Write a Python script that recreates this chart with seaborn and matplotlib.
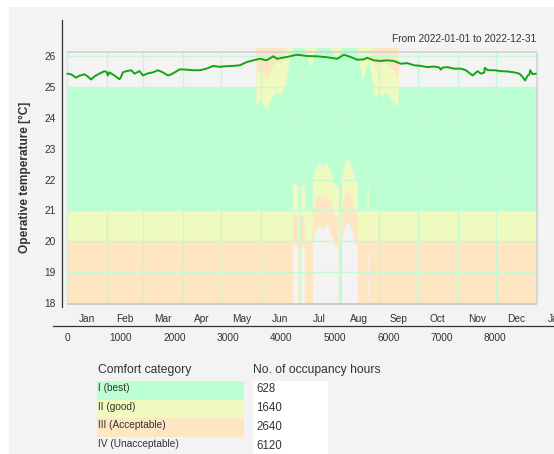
import numpy as np
import matplotlib
matplotlib.use("Agg")
import matplotlib.pyplot as plt
from matplotlib.patches import Rectangle
import seaborn as sns

sns.set_style("white")
plt.rcParams["font.family"] = ["Liberation Sans", "DejaVu Sans"]

# ---------------- data ----------------
month_names = ["Jan", "Feb", "Mar", "Apr", "May", "Jun", "Jul", "Aug",
               "Sep", "Oct", "Nov", "Dec", "Jan"]
month_starts = [0, 744, 1416, 2160, 2880, 3624, 4344, 5088, 5832, 6552,
                7296, 8016, 8760]
hour_ticks = [0, 1000, 2000, 3000, 4000, 5000, 6000, 7000, 8000]
temp_ticks = [18, 19, 20, 21, 22, 23, 24, 25, 26]

# operative temperature (hour of year, degC)
temp_hours = [0, 69, 163, 225, 319, 381, 444, 506, 600, 694, 740, 756, 788,
              881, 975, 1000, 1038, 1100, 1194, 1256, 1350, 1413, 1506, 1600,
              1694, 1788, 1881, 1944, 2006, 2100, 2225, 2350, 2475, 2600,
              2725, 2850, 2975, 3100, 3225, 3350, 3475, 3600, 3725, 3850,
              3919, 4106, 4294, 4481, 4669, 4856, 5044, 5169, 5294, 5419,
              5544, 5606, 5731, 5856, 5981, 6106, 6231, 6356, 6481, 6606,
              6731, 6856, 6950, 6981, 7020, 7106, 7231, 7356, 7450, 7575,
              7669, 7731, 7790, 7806, 7856, 7981, 8106, 8231, 8356, 8450,
              8513, 8556, 8606, 8640, 8650, 8700, 8760]
temp_values = [25.42, 25.40, 25.29, 25.35, 25.40, 25.33, 25.23, 25.33, 25.42,
               25.50, 25.47, 25.36, 25.46, 25.36, 25.24, 25.30, 25.46, 25.50,
               25.53, 25.42, 25.50, 25.36, 25.43, 25.46, 25.53, 25.46, 25.36,
               25.40, 25.46, 25.56, 25.55, 25.53, 25.53, 25.58, 25.67, 25.64,
               25.66, 25.67, 25.69, 25.79, 25.85, 25.90, 25.85, 25.98, 25.90,
               25.96, 26.03, 25.99, 25.98, 25.95, 25.90, 26.03, 25.96, 25.87,
               25.88, 25.93, 25.85, 25.83, 25.85, 25.83, 25.74, 25.76, 25.69,
               25.67, 25.63, 25.65, 25.62, 25.55, 25.62, 25.63, 25.58, 25.58,
               25.53, 25.36, 25.50, 25.42, 25.45, 25.61, 25.53, 25.53, 25.50,
               25.49, 25.46, 25.42, 25.31, 25.20, 25.36, 25.40, 25.53, 25.40,
               25.42]

# upper comfort limits (category I / II / III)
upper_hours = [0, 3525, 3525, 3560, 3600, 3663, 3725, 3756, 3788, 3850, 3913,
               3975, 4038, 4081, 4113, 4150, 4194, 4250, 4400, 4440, 4488,
               4538, 4600, 4644, 4700, 4850, 4900, 4969, 5030, 5100, 5131,
               5250, 5413, 5444, 5475, 5506, 5538, 5569, 5600, 5631, 5660,
               5694, 5725, 5756, 5819, 5881, 5944, 6006, 6069, 6131, 6163,
               6185, 6185, 8760]
upper_cat1 = [25, 25, 24.35, 24.50, 24.53, 24.45, 24.24, 24.34, 24.53, 24.70,
              24.83, 24.72, 24.88, 25.15, 25.47, 25.85, 26.17, 26.40, 26.40,
              26.20, 25.90, 25.63, 25.90, 26.25, 26.50, 26.50, 26.30, 26.06,
              26.00, 26.10, 26.40, 26.60, 26.30, 25.90, 25.58, 25.31, 25.26,
              25.50, 25.69, 25.80, 25.60, 25.20, 24.83, 24.61, 24.78, 24.72,
              24.83, 24.72, 24.56, 24.45, 24.34, 24.40, 25, 25]
upper_cat2 = [25, 25, 25.35, 25.50, 25.53, 25.45, 25.24, 25.34, 25.53, 25.70,
              25.83, 25.72, 25.88, 26.15, 26.47, 26.85, 27.17, 27.40, 27.40,
              27.20, 26.90, 26.63, 26.90, 27.25, 27.50, 27.50, 27.30, 27.06,
              27.00, 27.10, 27.40, 27.60, 27.30, 26.90, 26.58, 26.31, 26.26,
              26.50, 26.69, 26.80, 26.60, 26.20, 25.83, 25.61, 25.78, 25.72,
              25.83, 25.72, 25.56, 25.45, 25.34, 25.40, 25, 25]
upper_cat3 = [25, 25, 26.35, 26.50, 26.53, 26.45, 26.24, 26.34, 26.53, 26.70,
              26.83, 26.72, 26.88, 27.15, 27.47, 27.85, 28.17, 28.40, 28.40,
              28.20, 27.90, 27.63, 27.90, 28.25, 28.50, 28.50, 28.30, 28.06,
              28.00, 28.10, 28.40, 28.60, 28.30, 27.90, 27.58, 27.31, 27.26,
              27.50, 27.69, 27.80, 27.60, 27.20, 26.83, 26.61, 26.78, 26.72,
              26.83, 26.72, 26.56, 26.45, 26.34, 26.40, 25, 25]

# lower comfort limits (category I / II / III)
lower_hours = [0, 4205, 4205, 4240, 4270, 4303, 4303, 4328, 4328, 4380, 4428,
               4428, 4580, 4580, 4610, 4640, 4680, 4706, 4740, 4770, 4800,
               4850, 4880, 4920, 4950, 4975, 5010, 5062, 5062, 5124, 5124,
               5160, 5190, 5240, 5280, 5320, 5360, 5400, 5425, 5425, 5605,
               5605, 5622, 5622, 8760]
lower_cat1 = [21, 21, 21.84, 21.90, 21.86, 21.84, 21, 21, 21.80, 21.84, 21.80,
              21, 21, 21.98, 22.19, 22.35, 22.48, 22.54, 22.46, 22.35, 22.50,
              22.54, 22.43, 22.25, 22.08, 21.90, 21.84, 21.80, 21, 21, 22.03,
              22.30, 22.50, 22.66, 22.55, 22.35, 22.10, 21.90, 21.80, 21, 21,
              21.76, 21.76, 21, 21]
lower_cat2 = [20, 20, 20.84, 20.90, 20.86, 20.84, 20, 20, 20.80, 20.84, 20.80,
              20, 20, 20.98, 21.19, 21.35, 21.48, 21.54, 21.46, 21.35, 21.50,
              21.54, 21.43, 21.25, 21.08, 20.90, 20.84, 20.80, 20, 20, 21.03,
              21.30, 21.50, 21.66, 21.55, 21.35, 21.10, 20.90, 20.80, 20, 20,
              20.76, 20.76, 20, 20]
lower_cat3 = [18, 18, 19.84, 19.90, 19.86, 19.84, 18, 18, 19.80, 19.84, 19.80,
              18, 18, 19.98, 20.19, 20.35, 20.48, 20.54, 20.46, 20.35, 20.50,
              20.54, 20.43, 20.25, 20.08, 19.90, 19.84, 19.80, 18, 18, 20.03,
              20.30, 20.50, 20.66, 20.55, 20.35, 20.10, 19.90, 19.80, 18, 18,
              19.76, 19.76, 18, 18]

categories = ["I (best)", "II (good)", "III (Acceptable)", "IV (Unacceptable)"]
occupancy_hours = [628, 1640, 2640, 6120]
period_text = "From 2022-01-01 to 2022-12-31"

# ---------------- style ----------------
BG = "#f3f3f3"
GREEN = "#bbffd3"
YELLOW = "#effbbe"
ORANGE = "#fde6c1"
GRID = "#c4f9d3"
LINE = "#12a612"
INK = "#333333"
cat_colors = [GREEN, YELLOW, ORANGE, None]

W, H = 554, 454
fig = plt.figure(figsize=(W / 100, H / 100), dpi=100, facecolor="white")
fig.patches.append(Rectangle((9 / W, 0), 1 - 9 / W, 1 - 7 / H,
                             transform=fig.transFigure, facecolor=BG,
                             edgecolor="none", zorder=-10))

ax = fig.add_axes([62 / W, 1 - 326 / H, 492 / W, 306 / H])
ax.set_facecolor("none")
ax.set_xlim(-99, 9097)
ax.set_ylim(17.267, 27.153)

frame_l, frame_r, frame_top, color_top = -11, 8780, 26.11, 26.24

def pad(h, v):
    h = np.r_[frame_l, np.asarray(h, float), frame_r]
    v = np.asarray(v, float)
    return h, np.r_[v[0], v, v[-1]]

clip = Rectangle((frame_l, 18), frame_r - frame_l, color_top - 18,
                 transform=ax.transData, facecolor="none", edgecolor="none")
ax.add_patch(clip)

fills = []
for vals, col in [(upper_cat3, ORANGE), (upper_cat2, YELLOW), (upper_cat1, GREEN)]:
    hx, vy = pad(upper_hours, vals)
    fills.append(ax.fill_between(hx, 23.0, vy, color=col, lw=0, zorder=1))
hx, l1 = pad(lower_hours, lower_cat1)
_, l2 = pad(lower_hours, lower_cat2)
_, l3 = pad(lower_hours, lower_cat3)
fills.append(ax.fill_between(hx, l1, 23.6, color=GREEN, lw=0, zorder=1))
fills.append(ax.fill_between(hx, l2, l1, color=YELLOW, lw=0, zorder=1))
fills.append(ax.fill_between(hx, l3, l2, color=ORANGE, lw=0, zorder=1))
for f in fills:
    f.set_clip_path(clip)

# grid
ax.vlines(month_starts[:-1], 18, frame_top, color=GRID, lw=1, zorder=2)
ax.hlines(temp_ticks[1:], frame_l, frame_r, color=GRID, lw=1, zorder=2)
# frame
ax.hlines(frame_top, frame_l, frame_r, color="#d2d2d2", lw=1.2, zorder=2)
ax.vlines(frame_r, 18, frame_top, color="#d2d2d2", lw=1.2, zorder=2)
ax.hlines(17.98, frame_l, frame_r, color="#b9c9cc", lw=1.2, zorder=2)

# temperature line
sns.lineplot(x=temp_hours, y=temp_values, ax=ax, color=LINE, lw=1.4,
             zorder=5, sort=True)

# axes
for s in ["top", "right"]:
    ax.spines[s].set_visible(False)
for s in ["left", "bottom"]:
    ax.spines[s].set_color(INK)
    ax.spines[s].set_linewidth(0.9)
ax.spines["left"].set_bounds(17.89, 27.153)
ax.spines["bottom"].set_bounds(-267, 9300)

ax.set_yticks(temp_ticks)
ax.set_xticks(hour_ticks)
ax.set_xticks(month_starts, minor=True)
ax.tick_params(axis="y", direction="inout", length=7, width=0.8, colors=INK,
               labelsize=7.3, pad=1.2)
ax.tick_params(axis="x", which="major", direction="inout", length=5.5,
               width=0.8, colors=INK, labelsize=7.3, pad=2.5)
ax.tick_params(axis="x", which="minor", direction="in", length=2.5,
               width=0.8, colors=INK)
ax.set_xlabel("")
ax.set_ylabel("")

for i, name in enumerate(month_names):
    mid = month_starts[i] + ((month_starts[i + 1] - month_starts[i]) if i < 12 else 744) / 2
    ax.text(mid, 17.494, name, ha="center", va="center", fontsize=7.3,
            color=INK, clip_on=False)

ax.text(8760, 26.55, period_text, ha="right", va="center", fontsize=7.3,
        color=INK)

fig.text(25 / W, 1 - 177 / H, "Operative temperature [°C]", rotation=90,
         ha="center", va="center", fontweight="bold", fontsize=8.6, color=INK)

# table
def fx(x):
    return x / W

def fy(y):
    return 1 - y / H

fig.text(fx(98), fy(370), "Comfort category", ha="left", va="center",
         fontsize=8.7, color=INK)
fig.text(fx(253), fy(370), "No. of occupancy hours", ha="left", va="center",
         fontsize=8.7, color=INK)
fig.patches.append(Rectangle((fx(253), 0), fx(328) - fx(253), fy(380.7),
                             transform=fig.transFigure, facecolor="white",
                             edgecolor="none", zorder=-5))
row_top, row_h = 380.7, 18.8
for i, (cat, hrs, col) in enumerate(zip(categories, occupancy_hours, cat_colors)):
    top = row_top + i * row_h
    if col is not None:
        fig.patches.append(Rectangle((fx(96.7), fy(top + row_h)),
                                     fx(244) - fx(96.7), row_h / H,
                                     transform=fig.transFigure, facecolor=col,
                                     edgecolor="none", zorder=-5))
    fig.text(fx(98), fy(top + 7.2), cat, ha="left", va="center",
             fontsize=7.3, color=INK, zorder=3)
    fig.text(fx(256), fy(top + 8.5), str(hrs), ha="left", va="center",
             fontsize=8.3, color=INK, zorder=3)

fig.savefig("out.png", dpi=100, facecolor=fig.get_facecolor())
